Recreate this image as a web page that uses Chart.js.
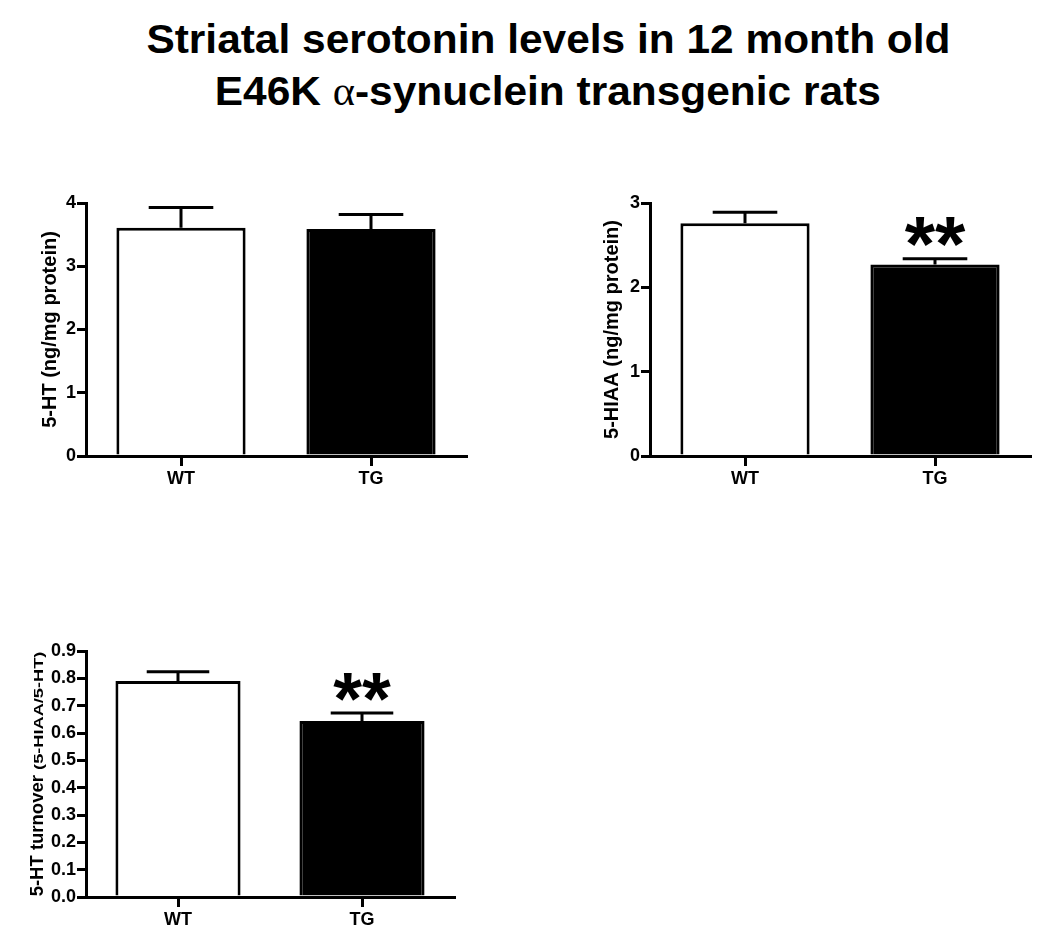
<!DOCTYPE html>
<html>
<head>
<meta charset="utf-8">
<script src="https://cdn.jsdelivr.net/npm/chart.js@4.4.1/dist/chart.umd.min.js"></script>
<style>
    body { margin: 0; background: #fff; width: 1050px; height: 937px; position: relative; overflow: hidden; font-family: 'Liberation Sans', Arial, sans-serif; }
    #title { position: absolute; left: 23px; top: 13px; width: 1050px; text-align: center; font-weight: bold; font-size: 41px; line-height: 52px; color: #000; }
    #title .line { display: inline-block; transform: scaleX(1.035); white-space: nowrap; }
    #title .alpha { font-family: 'Liberation Serif', serif; font-weight: normal; }
    canvas { position: absolute; }
</style>
</head>
<body>
<div id="title">
    <span class="line">Striatal serotonin levels in 12 month old</span><br>
    <span class="line">E46K <span class="alpha">α</span>-synuclein transgenic rats</span>
</div>
<canvas id="htChart" width="470" height="320" style="left:0;top:180px"></canvas>
<canvas id="hiaaChart" width="475" height="320" style="left:560px;top:180px"></canvas>
<canvas id="turnoverChart" width="460" height="317" style="left:0;top:620px"></canvas>

<script>
// Data (mean and upper SEM)
const groups = ['WT', 'TG'];
const htValues = [3.61, 3.59];
const htErrors = [0.32, 0.23];
const hiaaValues = [2.76, 2.27];
const hiaaErrors = [0.13, 0.07];
const turnoverValues = [0.79, 0.644];
const turnoverErrors = [0.034, 0.029];
const significance = ['', '**'];

const htTicks = [0, 1, 2, 3, 4];
const hiaaTicks = [0, 1, 2, 3];
const turnoverTicks = [0, 0.1, 0.2, 0.3, 0.4, 0.5, 0.6, 0.7, 0.8, 0.9];

const barFill = ['#ffffff', '#000000'];

// Error bars: stem + cap, drawn under the bars so the stem starts at the bar top
const errorBars = {
    id: 'errorBars',
    beforeDatasetsDraw(chart, args, opts) {
        const meta = chart.getDatasetMeta(0);
        const y = chart.scales.y;
        const ctx = chart.ctx;
        const values = chart.data.datasets[0].data;
        ctx.save();
        ctx.strokeStyle = '#000';
        ctx.lineWidth = 3;
        meta.data.forEach((bar, i) => {
            const top = y.getPixelForValue(values[i] + opts.errors[i]);
            const half = bar.width / 4;
            ctx.beginPath();
            ctx.moveTo(bar.x, bar.y);
            ctx.lineTo(bar.x, top);
            ctx.moveTo(bar.x - half, top);
            ctx.lineTo(bar.x + half, top);
            ctx.stroke();
        });
        ctx.restore();
    }
};

// Significance stars above the error caps
const stars = {
    id: 'stars',
    afterDatasetsDraw(chart, args, opts) {
        if (!opts.marks) return;
        const meta = chart.getDatasetMeta(0);
        const y = chart.scales.y;
        const ctx = chart.ctx;
        const values = chart.data.datasets[0].data;
        ctx.save();
        ctx.fillStyle = '#000';
        ctx.font = `bold ${opts.size}px "Liberation Sans", Arial, sans-serif`;
        ctx.textAlign = 'center';
        ctx.textBaseline = 'alphabetic';
        meta.data.forEach((bar, i) => {
            const mark = opts.marks[i];
            if (!mark) return;
            const capY = y.getPixelForValue(values[i] + opts.errors[i]);
            const m = ctx.measureText(mark);
            ctx.fillText(mark, bar.x, capY - opts.gap - m.actualBoundingBoxDescent);
        });
        ctx.restore();
    }
};

// Rotated y-axis title, allows parts with different font sizes
const yTitle = {
    id: 'yTitle',
    afterDraw(chart, args, opts) {
        const ctx = chart.ctx;
        const area = chart.chartArea;
        ctx.save();
        ctx.translate(area.left + opts.offset, (area.top + area.bottom) / 2);
        ctx.rotate(-Math.PI / 2);
        ctx.fillStyle = '#000';
        ctx.textBaseline = 'alphabetic';
        ctx.textAlign = 'left';
        const widths = opts.parts.map(p => {
            ctx.font = `bold ${p.size}px "Liberation Sans", Arial, sans-serif`;
            return ctx.measureText(p.text).width * (p.stretch || 1);
        });
        let x = -widths.reduce((a, b) => a + b, 0) / 2;
        opts.parts.forEach((p, i) => {
            ctx.font = `bold ${p.size}px "Liberation Sans", Arial, sans-serif`;
            ctx.save();
            ctx.translate(x, 0);
            ctx.scale(p.stretch || 1, 1);
            ctx.fillText(p.text, 0, 0);
            ctx.restore();
            x += widths[i];
        });
        ctx.restore();
    }
};

function makeChart(id, values, errors, ticks, decimals, layout, titleParts, titleOffset, starSize) {
    const tickFont = { family: "'Liberation Sans', Arial, sans-serif", size: 18, weight: 'bold' };
    return new Chart(document.getElementById(id).getContext('2d'), {
        type: 'bar',
        data: {
            labels: groups,
            datasets: [{
                data: values,
                backgroundColor: barFill,
                borderColor: '#000',
                borderWidth: 3,
                borderSkipped: 'bottom',
                barPercentage: 0.68,
                categoryPercentage: 1
            }]
        },
        options: {
            responsive: false,
            animation: false,
            events: [],
            layout: { padding: { top: layout.top, right: layout.right, left: 0, bottom: 0 } },
            plugins: {
                legend: { display: false },
                tooltip: { enabled: false },
                errorBars: { errors: errors },
                stars: { marks: starSize ? significance : null, errors: errors, size: starSize, gap: 12 },
                yTitle: { parts: titleParts, offset: titleOffset }
            },
            scales: {
                x: {
                    offset: true,
                    grid: { offset: false, drawOnChartArea: false, tickLength: 10, lineWidth: 3, color: '#000' },
                    border: { display: true, width: 3, color: '#000' },
                    ticks: { color: '#000', font: tickFont, padding: 2 },
                    afterFit: scale => { scale.height = layout.xHeight; }
                },
                y: {
                    min: ticks[0],
                    max: ticks[ticks.length - 1],
                    afterBuildTicks: scale => { scale.ticks = ticks.map(v => ({ value: v })); },
                    grid: { drawOnChartArea: false, tickLength: 9, lineWidth: 3, color: '#000' },
                    border: { display: true, width: 3, color: '#000' },
                    ticks: { color: '#000', font: tickFont, padding: 1, callback: v => Number(v).toFixed(decimals) },
                    afterFit: scale => { scale.width = layout.yWidth; }
                }
            }
        },
        plugins: [errorBars, stars, yTitle]
    });
}

makeChart('htChart', htValues, htErrors, htTicks, 0,
    { top: 23, right: 4, xHeight: 44, yWidth: 86 },
    [{ text: '5-HT (ng/mg protein)', size: 20 }], -30, 0);

makeChart('hiaaChart', hiaaValues, hiaaErrors, hiaaTicks, 0,
    { top: 23, right: 5, xHeight: 44, yWidth: 90 },
    [{ text: '5-HIAA (ng/mg protein)', size: 20 }], -32, 78);

makeChart('turnoverChart', turnoverValues, turnoverErrors, turnoverTicks, 1,
    { top: 31, right: 6, xHeight: 40, yWidth: 86 },
    [{ text: '5-HT turnover ', size: 18.5 }, { text: '(5-HIAA/5-HT)', size: 13, stretch: 1.4 }], -43, 74);
</script>
</body>
</html>
